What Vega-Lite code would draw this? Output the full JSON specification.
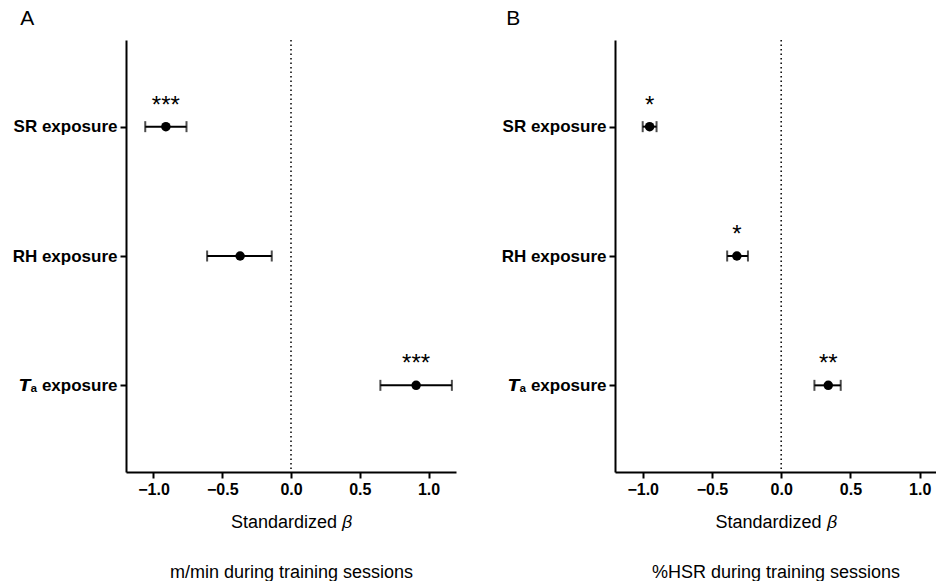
{
  "$schema": "https://vega.github.io/schema/vega-lite/v6.json",
  "padding": {"left": 12, "top": 8, "right": 0, "bottom": 0},
  "background": "white",
  "config": {
    "view": {"stroke": null},
    "font": "Liberation Sans",
    "axis": {"domainColor": "black", "domainWidth": 2, "tickColor": "black", "tickWidth": 2, "tickSize": 6, "labelColor": "black", "labelFont": "Liberation Sans", "labelFontWeight": "bold", "grid": false, "titleColor": "black", "titleFont": "Liberation Sans", "titleFontWeight": "normal"},
    "title": {"color": "black", "font": "Liberation Sans", "fontWeight": "normal"},
    "concat": {"spacing": 45}
  },
  "datasets": {
    "a": [
      {"var": "SR exposure", "beta": -0.91, "lo": -1.06, "hi": -0.76, "sig": "***"},
      {"var": "RH exposure", "beta": -0.37, "lo": -0.61, "hi": -0.14, "sig": ""},
      {"var": "𝙏ₐ exposure", "beta": 0.91, "lo": 0.65, "hi": 1.17, "sig": "***"}
    ],
    "b": [
      {"var": "SR exposure", "beta": -0.95, "lo": -1.0, "hi": -0.9, "sig": "*"},
      {"var": "RH exposure", "beta": -0.32, "lo": -0.39, "hi": -0.24, "sig": "*"},
      {"var": "𝙏ₐ exposure", "beta": 0.34, "lo": 0.24, "hi": 0.43, "sig": "**"}
    ]
  },
  "hconcat": [
    {
      "width": 330, "height": 432,
      "title": {"text": "A", "anchor": "start", "fontSize": 21, "dx": 8, "offset": 10},
      "data": {"name": "a"},
      "layer": [
        {
          "data": {"values": [{"z": 0}]},
          "mark": {"type": "rule", "strokeDash": [1.5, 3], "strokeWidth": 1.5, "color": "black"},
          "encoding": {"x": {"field": "z", "type": "quantitative", "scale": {"domain": [-1.2, 1.2], "nice": false, "zero": false}, "axis": {"values": [-1, -0.5, 0, 0.5, 1], "format": ".1f", "labelFontSize": 16, "labelPadding": 3, "titleFontSize": 18, "titlePadding": 16, "titleLineHeight": 50, "title": ["Standardized 𝛽", "m/min  during training sessions"]}}}
        },
        {
          "mark": {"type": "rule", "strokeWidth": 2, "color": "black"},
          "encoding": {
            "x": {"field": "lo", "type": "quantitative"},
            "x2": {"field": "hi"},
            "y": {"field": "var", "type": "nominal", "sort": ["SR exposure", "RH exposure", "𝙏ₐ exposure"], "scale": {"type": "point", "padding": 0.67}, "axis": {"title": null, "labelFontSize": 17, "labelPadding": 3}}
          }
        },
        {
          "mark": {"type": "tick", "size": 11, "thickness": 2, "color": "black", "orient": "vertical"},
          "encoding": {"x": {"field": "lo", "type": "quantitative"}, "y": {"field": "var", "type": "nominal", "sort": ["SR exposure", "RH exposure", "𝙏ₐ exposure"]}}
        },
        {
          "mark": {"type": "tick", "size": 11, "thickness": 2, "color": "black", "orient": "vertical"},
          "encoding": {"x": {"field": "hi", "type": "quantitative"}, "y": {"field": "var", "type": "nominal", "sort": ["SR exposure", "RH exposure", "𝙏ₐ exposure"]}}
        },
        {
          "mark": {"type": "point", "filled": true, "color": "black", "size": 90, "opacity": 1},
          "encoding": {"x": {"field": "beta", "type": "quantitative"}, "y": {"field": "var", "type": "nominal", "sort": ["SR exposure", "RH exposure", "𝙏ₐ exposure"]}}
        },
        {
          "mark": {"type": "text", "dy": -14, "fontSize": 24, "baseline": "alphabetic", "color": "black"},
          "encoding": {"x": {"field": "beta", "type": "quantitative"}, "y": {"field": "var", "type": "nominal", "sort": ["SR exposure", "RH exposure", "𝙏ₐ exposure"]}, "text": {"field": "sig"}}
        }
      ]
    },
    {
      "width": 321, "height": 432,
      "title": {"text": "B", "anchor": "start", "fontSize": 21, "dx": 5, "offset": 10},
      "data": {"name": "b"},
      "layer": [
        {
          "data": {"values": [{"z": 0}]},
          "mark": {"type": "rule", "strokeDash": [1.5, 3], "strokeWidth": 1.5, "color": "black"},
          "encoding": {"x": {"field": "z", "type": "quantitative", "scale": {"domain": [-1.2, 1.118], "nice": false, "zero": false}, "axis": {"values": [-1, -0.5, 0, 0.5, 1], "format": ".1f", "labelFontSize": 16, "labelPadding": 3, "titleFontSize": 18, "titlePadding": 16, "titleLineHeight": 50, "title": ["Standardized 𝛽", "%HSR during training sessions"]}}}
        },
        {
          "mark": {"type": "rule", "strokeWidth": 2, "color": "black"},
          "encoding": {
            "x": {"field": "lo", "type": "quantitative"},
            "x2": {"field": "hi"},
            "y": {"field": "var", "type": "nominal", "sort": ["SR exposure", "RH exposure", "𝙏ₐ exposure"], "scale": {"type": "point", "padding": 0.67}, "axis": {"title": null, "labelFontSize": 17, "labelPadding": 3}}
          }
        },
        {
          "mark": {"type": "tick", "size": 11, "thickness": 2, "color": "black", "orient": "vertical"},
          "encoding": {"x": {"field": "lo", "type": "quantitative"}, "y": {"field": "var", "type": "nominal", "sort": ["SR exposure", "RH exposure", "𝙏ₐ exposure"]}}
        },
        {
          "mark": {"type": "tick", "size": 11, "thickness": 2, "color": "black", "orient": "vertical"},
          "encoding": {"x": {"field": "hi", "type": "quantitative"}, "y": {"field": "var", "type": "nominal", "sort": ["SR exposure", "RH exposure", "𝙏ₐ exposure"]}}
        },
        {
          "mark": {"type": "point", "filled": true, "color": "black", "size": 90, "opacity": 1},
          "encoding": {"x": {"field": "beta", "type": "quantitative"}, "y": {"field": "var", "type": "nominal", "sort": ["SR exposure", "RH exposure", "𝙏ₐ exposure"]}}
        },
        {
          "mark": {"type": "text", "dy": -14, "fontSize": 24, "baseline": "alphabetic", "color": "black"},
          "encoding": {"x": {"field": "beta", "type": "quantitative"}, "y": {"field": "var", "type": "nominal", "sort": ["SR exposure", "RH exposure", "𝙏ₐ exposure"]}, "text": {"field": "sig"}}
        }
      ]
    }
  ]
}
